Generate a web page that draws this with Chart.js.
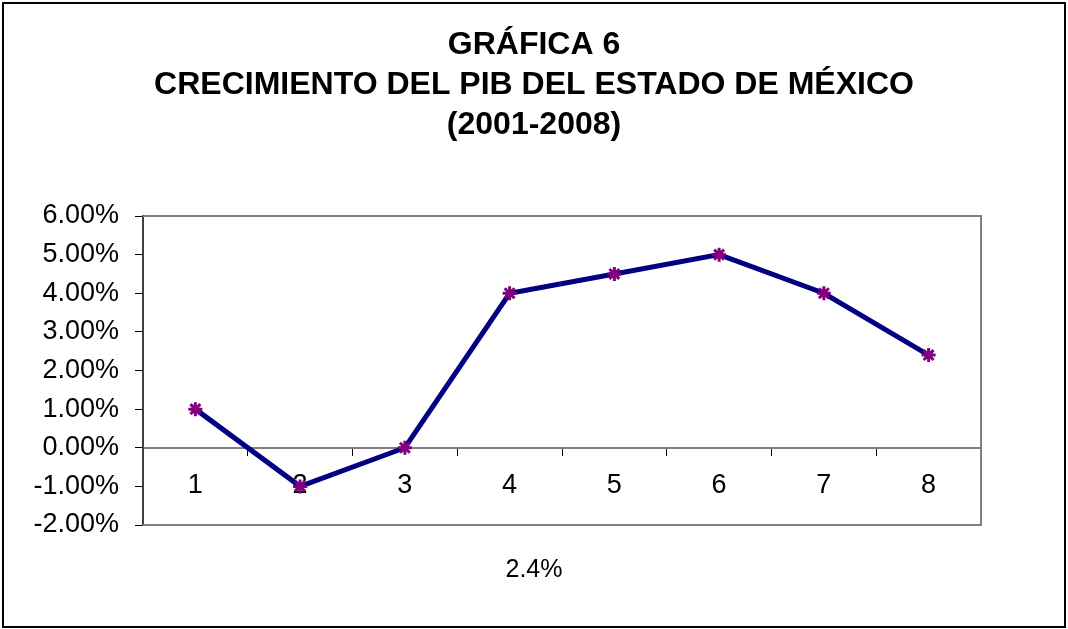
<!DOCTYPE html>
<html>
<head>
<meta charset="utf-8">
<script src="https://cdn.jsdelivr.net/npm/chart.js@4.4.1/dist/chart.umd.min.js"></script>
<style>
  html, body { margin: 0; padding: 0; background: #ffffff; }
  #wrap { width: 1068px; height: 629px; position: relative; }
</style>
</head>
<body>
<div id="wrap"><canvas id="c" width="1068" height="629"></canvas></div>
<script>
// ---- data ----
const categories = ['1', '2', '3', '4', '5', '6', '7', '8'];
const growthPct = [1.0, -1.0, 0.0, 4.0, 4.5, 5.0, 4.0, 2.4];
const titleLines = ['GRÁFICA 6', 'CRECIMIENTO DEL PIB DEL ESTADO DE MÉXICO', '(2001-2008)'];
const footnote = '2.4%';
const yMin = -2, yMax = 6, yStep = 1;

const FONT = "'Liberation Sans', Arial, Helvetica, sans-serif";

const frame = {
  id: 'frame',
  beforeDraw(chart) {
    const ctx = chart.ctx;
    ctx.save();
    ctx.fillStyle = '#ffffff';
    ctx.fillRect(0, 0, chart.width, chart.height);
    ctx.strokeStyle = '#000000';
    ctx.lineWidth = 2;
    ctx.strokeRect(3, 3, chart.width - 6, chart.height - 5);
    ctx.restore();
  },
  beforeDatasetsDraw(chart) {
    const {left, right, top, bottom} = chart.chartArea;
    const ctx = chart.ctx;
    ctx.save();
    ctx.strokeStyle = '#808080';
    ctx.lineWidth = 2;
    ctx.beginPath();
    ctx.moveTo(left, top);
    ctx.lineTo(right, top);
    ctx.lineTo(right, bottom);
    ctx.lineTo(left, bottom);
    ctx.stroke();
    ctx.restore();
  }
};

new Chart(document.getElementById('c'), {
  type: 'line',
  data: {
    labels: categories,
    datasets: [{
      data: growthPct,
      yAxisID: 'y',
      borderColor: '#000080',
      borderWidth: 5,
      tension: 0,
      fill: false,
      pointStyle: 'star',
      pointRadius: 7,
      pointBorderWidth: 3,
      pointBorderColor: '#800080',
      pointBackgroundColor: '#800080',
      pointHoverRadius: 7
    }]
  },
  options: {
    responsive: false,
    animation: false,
    events: [],
    layout: { padding: 0 },
    plugins: {
      legend: { display: false },
      tooltip: { enabled: false },
      title: {
        display: true,
        text: titleLines,
        color: '#000000',
        font: { family: FONT, size: 32, weight: 'bold', lineHeight: 1.25 },
        padding: { top: 25, bottom: 71 }
      },
      subtitle: {
        display: true,
        position: 'bottom',
        text: footnote,
        color: '#000000',
        font: { family: FONT, size: 25, weight: 'normal', lineHeight: 1.2 },
        padding: { top: 30, bottom: 44 }
      }
    },
    scales: {
      x: {
        type: 'category',
        position: { y: 0 },
        offset: true,
        grid: {
          offset: true,
          drawOnChartArea: false,
          drawTicks: true,
          tickLength: 7,
          tickColor: '#000000',
          tickWidth: 1
        },
        border: { display: true, color: '#808080', width: 2 },
        ticks: {
          color: '#000000',
          font: { family: FONT, size: 27 },
          padding: 15,
          maxRotation: 0,
          autoSkip: false
        }
      },
      y: {
        position: 'left',
        min: yMin,
        max: yMax,
        afterFit(scale) { scale.width = 143; },
        grid: {
          drawOnChartArea: false,
          drawTicks: true,
          tickLength: 8,
          tickColor: '#000000',
          tickWidth: 1
        },
        border: { display: true, color: '#404040', width: 2 },
        ticks: {
          stepSize: yStep,
          color: '#000000',
          font: { family: FONT, size: 27 },
          padding: 16,
          callback: (v) => Number(v).toFixed(2) + '%'
        }
      },
      yRightSpace: {
        position: 'right',
        display: true,
        min: yMin,
        max: yMax,
        afterFit(scale) { scale.width = 87; },
        grid: { display: false, drawTicks: false },
        border: { display: false },
        ticks: { display: false }
      }
    }
  },
  plugins: [frame]
});
</script>
</body>
</html>
